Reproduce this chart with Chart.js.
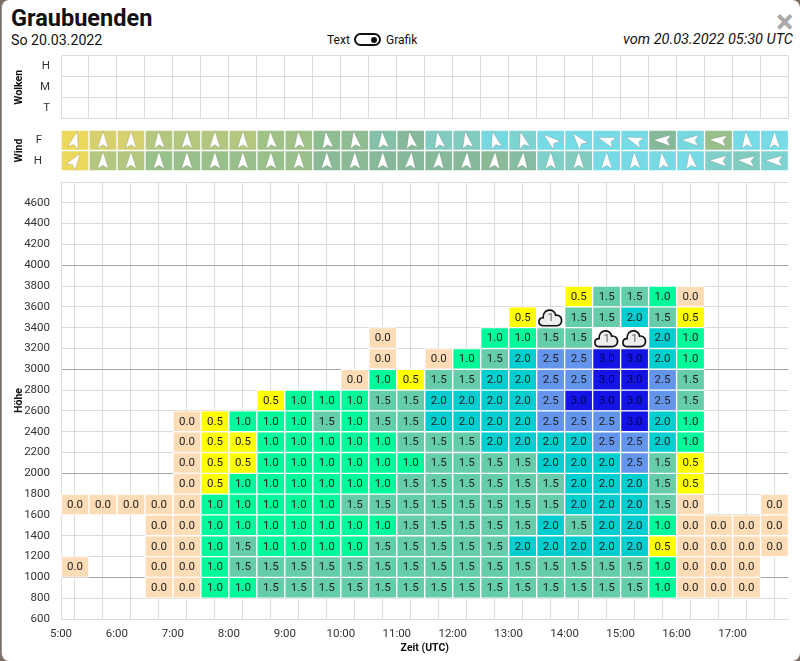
<!DOCTYPE html>
<html>
<head>
<meta charset="utf-8">
<title>Graubuenden</title>
<script src="https://cdn.jsdelivr.net/npm/chart.js@4/dist/chart.umd.js"></script>
<style>
html, body { margin: 0; padding: 0; width: 800px; height: 661px; overflow: hidden; background: #7d6e65; }
body { font-family: Roboto, sans-serif; color: #111; }
#modal { position: absolute; left: 1px; top: 0; width: 799px; height: 661px; background: #fff; border-radius: 8px; border-left: 1px solid #999; box-sizing: border-box; }
.txt { position: absolute; white-space: nowrap; line-height: 1; }
canvas { position: absolute; left: 0; display: block; }
#toggle { position: absolute; left: 354px; top: 33px; width: 27px; height: 13px; box-sizing: border-box; border: 2px solid #111; border-radius: 7px; }
#toggle i { position: absolute; right: 2px; top: 1.5px; width: 6px; height: 6px; border-radius: 50%; background: #111; }
</style>
</head>
<body>
<div id="modal"></div>
<div class="txt" style="left:11px;top:7px;font-size:23.5px;font-weight:700">Graubuenden</div>
<div class="txt" style="left:11px;top:33px;font-size:14.2px">So 20.03.2022</div>
<div class="txt" style="left:327px;top:34px;font-size:12px">Text</div>
<div id="toggle"><i></i></div>
<div class="txt" style="left:386px;top:34px;font-size:12px">Grafik</div>
<div class="txt" style="right:7px;top:33px;font-size:14.5px;font-style:italic">vom 20.03.2022 05:30 UTC</div>
<div class="txt" style="left:776px;top:5px;font-size:33px;font-weight:700;color:#aaa">×</div>
<canvas id="wolken" width="800" height="74" style="top:50px"></canvas>
<canvas id="wind" width="800" height="52" style="top:124px"></canvas>
<canvas id="main" width="800" height="485" style="top:176px"></canvas>
<script>
const _ = null;

const slotStarts = [5, 5.5, 6, 6.5, 7, 7.5, 8, 8.5, 9, 9.5, 10, 10.5, 11, 11.5, 12, 12.5, 13, 13.5, 14, 14.5, 15, 15.5, 16, 16.5, 17, 17.5];
const cloudLevels = ['H', 'M', 'T'];
const windLevels = ['F', 'H'];

// wind speed (kt) and direction the arrow points (deg)
const windSpeedF = [20, 17, 17, 14, 14, 14, 14, 12.5, 12.5, 11, 11, 9, 10, 7.5, 7.5, 5.5, 6.5, 5, 5, 5, 5, 10, 5.5, 12, 5, 5];
const windSpeedH = [20, 14, 14, 12, 12, 12, 12, 12, 12, 10.5, 10.5, 10, 10, 10, 10, 10.5, 9.5, 7, 7.5, 5, 5, 5, 5, 7, 7.5, 6.5];
const windDirF = [15, 0, 0, -3, 0, 0, 0, -5, -5, -8, -8, -5, -10, -10, -10, -15, -15, -50, -40, -72, -70, -88, -88, -85, -5, 0];
const windDirH = [35, 0, 0, 0, 0, 0, 0, 0, 0, 0, 0, 0, 5, 3, 3, 3, 5, 0, 0, 0, -3, -8, -8, -88, -85, -88];

const heights = [800, 1000, 1200, 1400, 1600, 1800, 2000, 2200, 2400, 2600, 2800, 3000, 3200, 3400, 3600];
const row800 = [_, _, _, 0, 0, 1, 1, 1.5, 1.5, 1.5, 1.5, 1.5, 1.5, 1.5, 1.5, 1.5, 1.5, 1.5, 1.5, 1.5, 1.5, 1, 0, 0, 0, _];
const row1000 = [0, _, _, 0, 0, 1, 1.5, 1.5, 1.5, 1.5, 1.5, 1.5, 1.5, 1.5, 1.5, 1.5, 1.5, 1.5, 1.5, 1.5, 1.5, 1, 0, 0, 0, _];
const row1200 = [_, _, _, 0, 0, 1, 1.5, 1, 1, 1, 1, 1.5, 1.5, 1.5, 1.5, 1.5, 2, 2, 2, 2, 2, 0.5, 0, 0, 0, 0];
const row1400 = [_, _, _, 0, 0, 1, 1, 1, 1, 1, 1, 1, 1.5, 1.5, 1.5, 1.5, 1.5, 2, 1.5, 2, 2, 1, 0, 0, 0, 0];
const row1600 = [0, 0, 0, 0, 0, 1, 1, 1, 1, 1, 1.5, 1.5, 1.5, 1.5, 1.5, 1.5, 1.5, 1.5, 2, 2, 2, 1.5, 0, _, _, 0];
const row1800 = [_, _, _, _, 0, 0.5, 1, 1, 1, 1, 1, 1, 1.5, 1.5, 1.5, 1.5, 1.5, 1.5, 2, 2, 2, 1.5, 0.5, _, _, _];
const row2000 = [_, _, _, _, 0, 0.5, 0.5, 1, 1, 1, 1, 1, 1, 1.5, 1.5, 1.5, 1.5, 2, 2, 2, 2.5, 1.5, 0.5, _, _, _];
const row2200 = [_, _, _, _, 0, 0.5, 0.5, 1, 1, 1, 1, 1, 1.5, 1.5, 1.5, 2, 2, 2, 2, 2.5, 2.5, 2, 1, _, _, _];
const row2400 = [_, _, _, _, 0, 0.5, 1, 1, 1, 1.5, 1, 1.5, 1.5, 2, 2, 2, 2, 2.5, 2.5, 2.5, 3, 2, 1, _, _, _];
const row2600 = [_, _, _, _, _, _, _, 0.5, 1, 1, 1, 1.5, 1.5, 2, 2, 2, 2, 2.5, 3, 3, 3, 2.5, 1.5, _, _, _];
const row2800 = [_, _, _, _, _, _, _, _, _, _, 0, 1, 0.5, 1.5, 1.5, 2, 2, 2.5, 2.5, 3, 3, 2.5, 1.5, _, _, _];
const row3000 = [_, _, _, _, _, _, _, _, _, _, _, 0, _, 0, 1, 1.5, 2, 2.5, 2.5, 3, 3, 2, 1, _, _, _];
const row3200 = [_, _, _, _, _, _, _, _, _, _, _, 0, _, _, _, 1, 1, 1.5, 1.5, _, _, 2, 1, _, _, _];
const row3400 = [_, _, _, _, _, _, _, _, _, _, _, _, _, _, _, _, 0.5, _, 1.5, 1.5, 2, 1.5, 0.5, _, _, _];
const row3600 = [_, _, _, _, _, _, _, _, _, _, _, _, _, _, _, _, _, _, 0.5, 1.5, 1.5, 1, 0, _, _, _];
const cellRows = [row800, row1000, row1200, row1400, row1600, row1800, row2000, row2200, row2400, row2600, row2800, row3000, row3200, row3400, row3600];

const cloudSlots = [13.5, 14.5, 15];
const cloudHeights = [3400, 3200, 3200];
const cloudValues = [1, 1, 1];

const cellColors = { 0: '#fedcb6', 0.5: '#ffff00', 1: '#00fa9a', 1.5: '#66cdaa', 2: '#00ced1', 2.5: '#6495ed', 3: '#1414e6' };
const windStops = [[5, [118, 219, 230]], [7, [127, 208, 200]], [10, [133, 185, 154]], [12, [153, 192, 138]], [14, [180, 199, 127]], [17, [214, 208, 110]], [20, [236, 217, 92]]];

function windColor(s) {
    for (let i = 1; i < windStops.length; i++) {
        if (s <= windStops[i][0]) {
            const a = windStops[i - 1], b = windStops[i];
            const t = (s - a[0]) / (b[0] - a[0]);
            const c = a[1].map((v, k) => Math.round(v + (b[1][k] - v) * t));
            return `rgb(${c[0]},${c[1]},${c[2]})`;
        }
    }
    return 'rgb(236,217,92)';
}

Chart.defaults.font.family = 'Roboto, sans-serif';
Chart.defaults.animation = false;
Chart.defaults.plugins.legend.display = false;
Chart.defaults.plugins.tooltip.enabled = false;

const GRID = '#dcdcdc';
// the three panels have to line up, so the axis boxes get fixed sizes and no label padding
const fixWidth = (scale) => { scale.width = 61; scale.paddingTop = 0; scale.paddingBottom = 0; };
const fixHeight = (h) => (scale) => { scale.height = h; scale.paddingLeft = 0; scale.paddingRight = 0; };

function timeAxis() {
    return {
        type: 'linear',
        min: 5,
        max: 18,
        offset: false,
        afterFit: fixHeight(0),
        grid: { color: GRID, drawTicks: false },
        border: { color: GRID },
        ticks: { display: false, stepSize: 0.5, autoSkip: false }
    };
}

function sideTitle(text) {
    return { display: true, text: text, color: '#111', font: { size: 10.5, weight: 'bold' }, padding: { top: 13, bottom: 0 } };
}

new Chart(document.getElementById('wolken'), {
    type: 'bar',
    data: { labels: cloudLevels, datasets: [{ data: [] }] },
    options: {
        responsive: false,
        indexAxis: 'y',
        layout: { padding: { top: 6, right: 11.5, bottom: 5.5 } },
        scales: {
            x: timeAxis(),
            y: {
                type: 'category',
                offset: true,
                afterFit: fixWidth,
                grid: { color: GRID, offset: true, drawTicks: false },
                border: { color: GRID },
                title: sideTitle('Wolken'),
                ticks: { color: '#333', font: { size: 11.5 }, padding: 11 }
            }
        }
    }
});

const windArrows = {
    id: 'windArrows',
    afterDatasetsDraw(chart) {
        const ctx = chart.ctx, x = chart.scales.x, y = chart.scales.y;
        [windDirF, windDirH].forEach((dirs, r) => {
            dirs.forEach((deg, i) => {
                ctx.save();
                ctx.translate(x.getPixelForValue(slotStarts[i] + 0.25), y.getPixelForValue(r));
                ctx.rotate(deg * Math.PI / 180);
                ctx.beginPath();
                ctx.moveTo(0, -9);
                ctx.lineTo(5.5, 8);
                ctx.lineTo(0, 4.5);
                ctx.lineTo(-5.5, 8);
                ctx.closePath();
                ctx.fillStyle = '#fff';
                ctx.strokeStyle = 'rgba(90,90,90,0.35)';
                ctx.lineWidth = 0.6;
                ctx.fill();
                ctx.stroke();
                ctx.restore();
            });
        });
    }
};

new Chart(document.getElementById('wind'), {
    type: 'bar',
    data: {
        labels: windLevels,
        datasets: slotStarts.map((t, i) => ({
            data: [[t, t + 0.5], [t, t + 0.5]],
            backgroundColor: [windColor(windSpeedF[i]), windColor(windSpeedH[i])]
        }))
    },
    plugins: [windArrows],
    options: {
        responsive: false,
        indexAxis: 'y',
        layout: { padding: { top: 6, right: 11.5, bottom: 5 } },
        datasets: { bar: { grouped: false, barPercentage: 1, categoryPercentage: 1, borderWidth: 1, borderColor: '#fff', borderSkipped: false } },
        scales: {
            x: Object.assign(timeAxis(), { grid: { display: false }, border: { display: false } }),
            y: {
                type: 'category',
                offset: true,
                afterFit: fixWidth,
                grid: { display: false },
                border: { display: false },
                title: sideTitle('Wind'),
                ticks: { color: '#333', font: { size: 11.5 }, padding: 11 }
            }
        }
    }
});

const cellLabels = {
    id: 'cellLabels',
    afterDatasetsDraw(chart) {
        const ctx = chart.ctx, x = chart.scales.x, y = chart.scales.y;
        ctx.save();
        ctx.font = '11.5px Roboto, sans-serif';
        ctx.textAlign = 'center';
        ctx.textBaseline = 'middle';
        cellRows.forEach((row, r) => {
            row.forEach((v, i) => {
                if (v === null) return;
                ctx.fillStyle = v === 3 ? '#000050' : '#222';
                ctx.fillText(v.toFixed(1), x.getPixelForValue(slotStarts[i] + 0.25), y.getPixelForValue(heights[r] + 100) + 0.5);
            });
        });
        cloudValues.forEach((v, i) => {
            const cx = x.getPixelForValue(cloudSlots[i] + 0.25), cy = y.getPixelForValue(cloudHeights[i] + 100);
            ctx.save();
            ctx.translate(cx, cy);
            ctx.beginPath();
            ctx.moveTo(-7, 8.5);
            ctx.bezierCurveTo(-13.5, 8.5, -13, 0, -7.5, 0.5);
            ctx.bezierCurveTo(-8, -9, 4, -9.5, 5, -2);
            ctx.bezierCurveTo(12.5, -3, 13, 8.5, 6, 8.5);
            ctx.closePath();
            ctx.fillStyle = '#eee';
            ctx.strokeStyle = '#111';
            ctx.lineWidth = 1.7;
            ctx.fill();
            ctx.stroke();
            ctx.fillStyle = '#666';
            ctx.fillText(String(v), 0, 1);
            ctx.restore();
        });
        ctx.restore();
    }
};

new Chart(document.getElementById('main'), {
    type: 'bar',
    data: {
        datasets: cellRows.map((row, r) => {
            const used = row.map((v, i) => i).filter(i => row[i] !== null);
            return {
                data: used.map(i => ({ x: slotStarts[i] + 0.25, y: [heights[r], heights[r] + 200] })),
                backgroundColor: used.map(i => cellColors[row[i]])
            };
        })
    },
    plugins: [cellLabels],
    options: {
        responsive: false,
        layout: { padding: { top: 6, right: 11.5, bottom: 6 } },
        datasets: { bar: { grouped: false, barPercentage: 1, categoryPercentage: 1, borderWidth: 1, borderColor: '#fff', borderSkipped: false } },
        scales: {
            x: {
                type: 'linear',
                min: 5,
                max: 18,
                offset: false,
                afterFit: fixHeight(36),
                grid: { color: GRID, drawTicks: false },
                border: { color: GRID },
                title: { display: true, text: 'Zeit (UTC)', color: '#111', font: { size: 10.5, weight: 'bold' }, padding: { top: 2, bottom: 0 } },
                ticks: {
                    stepSize: 0.5,
                    autoSkip: false,
                    maxRotation: 0,
                    color: '#333',
                    font: { size: 11.5 },
                    padding: 8,
                    callback: (v) => (Number.isInteger(v) && v < 18 ? v + ':00' : '')
                }
            },
            y: {
                type: 'linear',
                min: 600,
                max: 4800,
                afterFit: fixWidth,
                grid: { color: (c) => (c.tick.value % 1000 === 0 ? '#a6a6a6' : GRID), drawTicks: false },
                border: { color: GRID },
                title: sideTitle('Höhe'),
                ticks: {
                    stepSize: 200,
                    color: '#333',
                    font: { size: 11.5 },
                    padding: 11,
                    callback: (v) => (v < 4800 ? String(v) : '')
                }
            }
        }
    }
});
</script>
</body>
</html>
